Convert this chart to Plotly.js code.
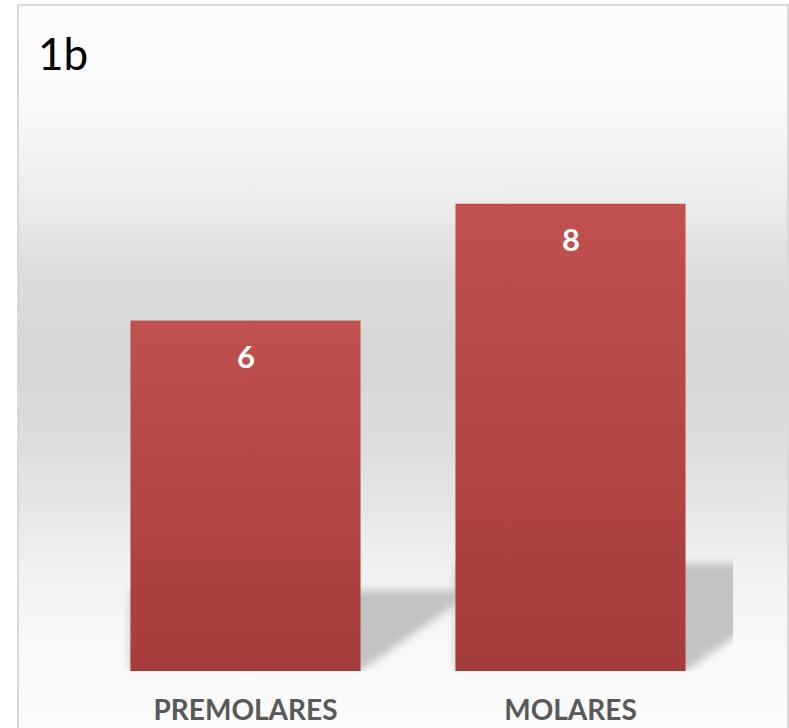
<!DOCTYPE html>
<html>
<head>
<meta charset="utf-8">
<script src="https://cdn.plot.ly/plotly-3.0.1.min.js"></script>
<style>
  html, body { margin: 0; padding: 0; width: 789px; height: 728px; overflow: hidden; background: #ffffff; }
  #frame {
    position: absolute; left: 17px; top: 4px; width: 768px; height: 780px;
    border: 2px solid #d9d9d9;
    background: linear-gradient(to bottom,
      #fcfcfc 0px, #fafafa 90px, #ececec 195px, #dcdcdc 265px,
      #d8d8d8 330px, #d8d8d8 380px, #dcdcdc 430px, #e6e6e6 500px,
      #f1f1f1 565px, #f8f8f8 640px, #fbfbfb 724px);
  }
  #chart { position: absolute; left: 0; top: 0; width: 789px; height: 728px; }
</style>
</head>
<body>
<div id="frame"></div>
<div id="chart"></div>
<script>
// Counts per tooth group
const categories = ["PREMOLARES", "MOLARES"];
const counts = [6, 8];
const chartLabel = "1b";

const barColor = "#b34744";
const labelColor = "#595959";

// Soft perspective shadow behind each bar, built from the bar value
const barHalf = (1 - 0.292) / 2;
const shadowRise = 0.23;      // shadow height as a share of the bar value
const shadowSlope = 3.9;      // value units per category unit along the lower edge
const shadows = counts.map((v, i) => {
  const top = v * shadowRise;
  const x0 = i - barHalf, x1 = i + barHalf;
  const xd = x1 + top / shadowSlope;
  return {
    type: "path", xref: "x", yref: "y", layer: "below",
    path: `M ${x0},0 L ${x1},0 L ${xd},${top} L ${x0},${top} Z`,
    fillcolor: "#c2c2c2", line: { width: 0 }
  };
});

const valueLabels = counts.map((v, i) => ({
  x: categories[i], y: v, xref: "x", yref: "y",
  text: String(v), showarrow: false,
  yanchor: "middle", yshift: -35,
  font: { family: "Lato", size: 31, color: "#ffffff", weight: "bold" }
}));

const trace = {
  type: "bar",
  x: categories,
  y: counts,
  marker: { color: barColor, line: { width: 0 } },
  hoverinfo: "skip"
};

const layout = {
  width: 789, height: 728,
  margin: { l: 83, r: 56, t: 87, b: 57 },
  paper_bgcolor: "rgba(0,0,0,0)",
  plot_bgcolor: "rgba(0,0,0,0)",
  bargap: 0.292,
  showlegend: false,
  title: {
    text: chartLabel,
    xref: "container", yref: "container",
    x: 38 / 789, xanchor: "left",
    y: 1 - 39 / 728, yanchor: "top",
    font: { family: "Lato", size: 44, color: "#000000" }
  },
  xaxis: {
    range: [-0.5, 1.5],
    showline: false, showgrid: false, zeroline: false, ticks: "",
    ticklabelstandoff: 20,
    tickfont: { family: "Lato", size: 28, color: labelColor, weight: "bold" }
  },
  yaxis: {
    range: [0, 10],
    visible: false, showgrid: false, zeroline: false
  },
  shapes: shadows,
  annotations: valueLabels
};

Plotly.newPlot("chart", [trace], layout, { displayModeBar: false, staticPlot: true }).then(gd => {
  const svg = gd.querySelector(".main-svg");
  const ns = "http://www.w3.org/2000/svg";
  let defs = svg.querySelector("defs");
  if (!defs) { defs = document.createElementNS(ns, "defs"); svg.insertBefore(defs, svg.firstChild); }

  // vertical shading on the bars
  const grad = document.createElementNS(ns, "linearGradient");
  grad.setAttribute("id", "barShade");
  grad.setAttribute("x1", "0"); grad.setAttribute("y1", "0");
  grad.setAttribute("x2", "0"); grad.setAttribute("y2", "1");
  [["0", "#c1514e"], ["0.5", "#b34744"], ["1", "#a43c3a"]].forEach(([o, c]) => {
    const s = document.createElementNS(ns, "stop");
    s.setAttribute("offset", o); s.setAttribute("stop-color", c);
    grad.appendChild(s);
  });
  defs.appendChild(grad);

  // soft edges for the shadows
  const filt = document.createElementNS(ns, "filter");
  filt.setAttribute("id", "shadowSoft");
  filt.setAttribute("x", "-30%"); filt.setAttribute("y", "-30%");
  filt.setAttribute("width", "160%"); filt.setAttribute("height", "160%");
  const blur = document.createElementNS(ns, "feGaussianBlur");
  blur.setAttribute("stdDeviation", "4");
  filt.appendChild(blur);
  defs.appendChild(filt);

  gd.querySelectorAll(".barlayer .point path").forEach(p => { p.style.fill = "url(#barShade)"; });
  svg.querySelectorAll(".shapelayer path").forEach(p => {
    p.style.filter = "url(#shadowSoft)";
    p.setAttribute("filter", "url(#shadowSoft)");
  });
});
</script>
</body>
</html>
